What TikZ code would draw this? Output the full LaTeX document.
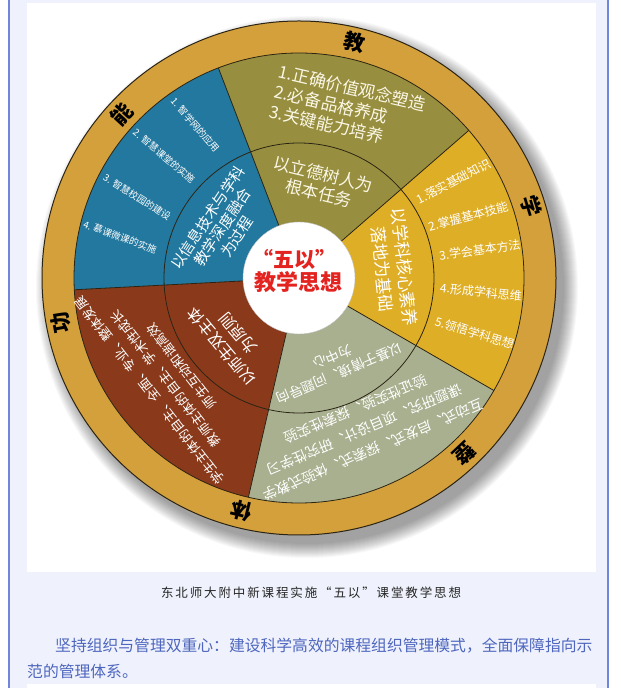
\documentclass[tikz,border=0pt]{standalone}
\usepackage{fontspec}
\newfontfamily\cjk{Noto Sans CJK SC}
\newfontfamily\capfont[LetterSpace=15]{Noto Sans CJK SC}
\definecolor{ringc}{HTML}{D4A03C}
\definecolor{olivec}{HTML}{978F3F}
\definecolor{bluec}{HTML}{22789F}
\definecolor{yelc}{HTML}{DFAE27}
\definecolor{grayc}{HTML}{A9B090}
\definecolor{brownc}{HTML}{8A3A1B}
\definecolor{redc}{HTML}{E3231F}
\definecolor{pagebg}{HTML}{EFF2FC}
\definecolor{borderc}{HTML}{7086DA}
\definecolor{parac}{HTML}{4E66BE}
\definecolor{linec}{HTML}{2B2414}
\definecolor{creamc}{HTML}{FBF7E6}
\begin{document}
\begin{tikzpicture}[x=1pt,y=1pt,
  wt/.style={text=white, inner sep=0pt, align=center},
  ringch/.style={font={\cjk\bfseries\fontsize{21}{21}\selectfont}, text=black, inner sep=0pt},
  sepline/.style={draw=linec, line width=0.8pt}]
\useasboundingbox (0,0) rectangle (621,688);
\fill[white] (0,0) rectangle (621,688);
\fill[pagebg] (9,0) rectangle (608,688);
\draw[borderc, line width=1.2pt] (9,0) -- (9,688) (608,0) -- (608,688);
\fill[white] (27,116) rectangle (596,685);
\fill[white] (27,0) rectangle (596,4);
\begin{scope}[shift={(299,410)}]
  % shadow
  \foreach \k in {0,...,14} \fill[black, opacity=0.026] (8,-9) circle ({257+\k*1.0});
  % ring
  \fill[ringc] (0,0) circle (257);
  % sectors
  \fill[olivec] (0,0) -- (41:225) arc[start angle=41, end angle=111, radius=225] -- cycle;
  \fill[bluec] (0,0) -- (111:225) arc[start angle=111, end angle=183, radius=225] -- cycle;
  \fill[brownc] (0,0) -- (183:225) arc[start angle=183, end angle=257, radius=225] -- cycle;
  \fill[grayc] (0,0) -- (257:225) arc[start angle=257, end angle=330, radius=225] -- cycle;
  \fill[yelc] (0,0) -- (330:225) arc[start angle=330, end angle=401, radius=225] -- cycle;
  \foreach \a in {41,111,183,257,330} \draw[sepline] (\a:56) -- (\a:225);
  \draw[sepline] (0,0) circle (135);
  \draw[sepline] (0,0) circle (225);
  \draw[linec, line width=1pt] (0,0) circle (257);
  \fill[white] (0,0) circle (56);
  \draw[black!25, line width=0.4pt] (0,0) circle (56);
  % centre
  \node[text=redc, inner sep=0pt, font={\cjk\bfseries\fontsize{21}{21}\selectfont}] (c1) at (-5,19) {“五以”};
  \node[text=redc, inner sep=0pt, font={\cjk\bfseries\fontsize{22}{22}\selectfont}] (c2) at (-1,-4) {教学思想};
  % ring characters
  \node[ringch, rotate=-13.3] (r1) at (76.7:242) {教};
  \node[ringch, rotate=-72.8] (r2) at (17.2:243) {学};
  \node[ringch, rotate=-136.7] (r3) at (-46.7:242) {整};
  \node[ringch, rotate=-193.9] (r4) at (-103.9:240) {体};
  \node[ringch, rotate=100.7] (r5) at (190.7:242) {功};
  \node[ringch, rotate=47.2] (r6) at (137.2:241) {能};
  % olive
  \node[wt, text=creamc, align=left, rotate=-13, font={\cjk\fontsize{17}{20.5}\selectfont}] (o1) at (74:177) {1.正确价值观念塑造\\2.必备品格养成\\3.关键能力培养};
  \node[wt, text=creamc, rotate=-13.5, font={\cjk\fontsize{17}{19.5}\selectfont}] (o2) at (76.8:96.5) {以立德树人为\\根本任务};
  % blue
  \node[wt, rotate=56.5, font={\cjk\fontsize{15}{17.5}\selectfont}] (b2) at (146.5:92) {以信息技术与学科\\教学深度融合\\为过程};
  \node[wt, rotate=-49, font={\cjk\fontsize{9.5}{10}\selectfont}] (b11) at (124.2:185) {1. 智学网的应用};
  \node[wt, rotate=-40, font={\cjk\fontsize{9.5}{10}\selectfont}] (b12) at (137.9:182) {2. 智慧课堂的实施};
  \node[wt, rotate=-32, font={\cjk\fontsize{9.5}{10}\selectfont}] (b13) at (153.4:181) {3. 智慧校园的建设};
  \node[wt, rotate=-20, font={\cjk\fontsize{9.5}{10}\selectfont}] (b14) at (167.1:183.6) {4. 慕课微课的实施};
  % yellow
  \node[wt, rotate=-84, font={\cjk\fontsize{17}{22}\selectfont}] (y2) at (6:95) {以学科核心素养\\落地为基础};
  \node[wt, rotate=27.6, font={\cjk\fontsize{12}{12}\selectfont}] (y11) at (32:182) {1.落实基础知识};
  \node[wt, rotate=14.6, font={\cjk\fontsize{12}{12}\selectfont}] (y12) at (20:180) {2.掌握基本技能};
  \node[wt, rotate=8, font={\cjk\fontsize{12}{12}\selectfont}] (y13) at (8.8:183) {3.学会基本方法};
  \node[wt, rotate=-6, font={\cjk\fontsize{12}{12}\selectfont}] (y14) at (-4.4:182.5) {4.形成学科思维};
  \node[wt, rotate=-17, font={\cjk\fontsize{12}{12}\selectfont}] (y15) at (-17.4:184) {5.领悟学科思想};
  % gray-green
  \node[wt, rotate=-157, font={\cjk\fontsize{13.5}{18}\selectfont}] (g2) at (-67:94.5) {以基于情境、问题导向\\为中心};
  \node[wt, rotate=-157, font={\cjk\fontsize{14}{22}\selectfont}] (g1) at (-66.6:165) {互动式、启发式、探索式、体验式教学\\课题研究、项目设计、研究性学习\\验证性实验、探索性实验};
  % brown
  \node[wt, rotate=130, font={\cjk\fontsize{16}{21}\selectfont}] (br2) at (222:93) {以师生双主体\\为原则};
  \node[wt, rotate=128, font={\cjk\fontsize{13}{20}\selectfont}] (br1) at (217:167) {学生主体的自主、全面、专业、整体发展\\教师主体的自主、学术性成长\\师生互动和谐高效};
\end{scope}
\node[inner sep=0pt, text=black!85, font={\capfont\fontsize{12.5}{14}\selectfont}] (cap) at (311,95) {东北师大附中新课程实施“五以”课堂教学思想};
\node[anchor=west, inner sep=0pt, text=parac, font={\cjk\fontsize{15.8}{20}\selectfont}] (p1) at (55,42) {坚持组织与管理双重心：建设科学高效的课程组织管理模式，全面保障指向示};
\node[anchor=west, inner sep=0pt, text=parac, font={\cjk\fontsize{15.8}{20}\selectfont}] (p2) at (27,17) {范的管理体系。};
\end{tikzpicture}
\end{document}
